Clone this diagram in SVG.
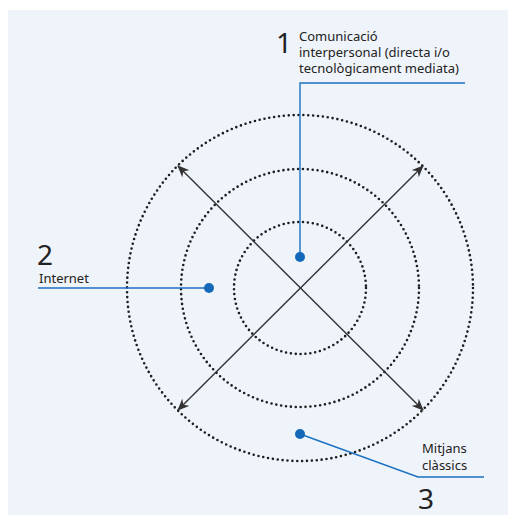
<svg xmlns="http://www.w3.org/2000/svg" width="509" height="515" viewBox="0 0 509 515">
<defs>
<style>
.ring{fill:none;stroke:#1e1e1e;stroke-width:2.6;stroke-linecap:round;stroke-dasharray:0 4.9}
.axis{stroke:#333;stroke-width:1.4;fill:none;marker-start:url(#ah);marker-end:url(#ah)}
.lead{stroke:#1a72c0;stroke-width:1.4;fill:none}
.dot{fill:#1369b8}
.lbl{font-family:"Noto Sans","Open Sans",sans-serif;font-size:13px;fill:#222}
.num{font-family:"Noto Sans","Open Sans",sans-serif;font-size:28px;fill:#222}
</style>
<marker id="ah" viewBox="0 0 12 10" refX="11" refY="5" markerWidth="12" markerHeight="10" markerUnits="userSpaceOnUse" orient="auto-start-reverse">
<path d="M0,0 L12,5 L0,10 L3.5,5 Z" fill="#333"/>
</marker>
</defs>
<rect x="8" y="10" width="500" height="505" fill="#eff3fa"/>
<g id="rings">
<circle class="ring" cx="300" cy="288" r="66"/>
<circle class="ring" cx="300" cy="288" r="119"/>
<circle class="ring" cx="300" cy="288" r="173"/>
</g>
<g id="connectors">
<line class="axis" x1="178" y1="166" x2="423" y2="410"/>
<line class="axis" x1="178" y1="410" x2="423" y2="166"/>
<polyline class="lead" points="300,257 300,83 465,83"/>
<polyline class="lead" points="209,288 38,288"/>
<polyline class="lead" points="300,434 418,477 484,477"/>
</g>
<g id="node1">
<circle class="dot" cx="300" cy="257" r="5"/>
<text class="num" x="276" y="53">1</text>
<text class="lbl" x="299" y="41">Comunicació<tspan x="299" dy="16">interpersonal (directa i/o</tspan><tspan x="299" dy="16">tecnològicament mediata)</tspan></text>
</g>
<g id="node2">
<circle class="dot" cx="209" cy="288" r="5"/>
<text class="num" x="37" y="265">2</text>
<text class="lbl" x="39" y="283">Internet</text>
</g>
<g id="node3">
<circle class="dot" cx="300" cy="434" r="5"/>
<text class="lbl" x="422" y="453">Mitjans<tspan x="422" dy="17">clàssics</tspan></text>
<text class="num" x="418" y="509">3</text>
</g>
</svg>
